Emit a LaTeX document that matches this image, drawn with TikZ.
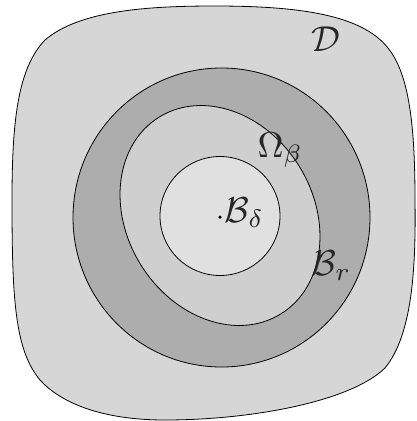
\documentclass[tikz,border=0pt]{standalone}
\usepackage{amsmath}
\definecolor{dfill}{HTML}{D6D6D6}
\definecolor{rfill}{HTML}{ADADAD}
\definecolor{ofill}{HTML}{CFCFCF}
\definecolor{ifill}{HTML}{E0E0E0}
\tikzset{
  region/.style={draw=black, line width=0.8pt},
  lbl/.style={scale=3.6, inner sep=0pt, text=black!85},
}
\begin{document}
\begin{tikzpicture}[x=1pt, y=-1pt]
\useasboundingbox (0,0) rectangle (417,421);
% domain D
\path[region, fill=dfill] (215,6) .. controls (300,6) and (362,15) .. (388,48)
  .. controls (410,75) and (415,130) .. (415,200)
  .. controls (416,270) and (412,335) .. (385,368)
  .. controls (350,402) and (250,420) .. (165,420)
  .. controls (100,420) and (60,402) .. (40,380)
  .. controls (15,350) and (12,300) .. (12,200)
  .. controls (12,120) and (18,68) .. (45,40)
  .. controls (80,10) and (150,6) .. (215,6) -- cycle;
% ball B_r
\path[region, fill=rfill] (221.5,217.5) ellipse [x radius=148.5, y radius=149.5];
% Omega_beta
\path[region, fill=ofill] (220,215.5) ellipse [x radius=115.7, y radius=93.3, rotate=-58.3];
% ball B_delta
\path[region, fill=ifill] (220,216) ellipse [x radius=60, y radius=59.5];
% centre point
\node[circle, fill=black, inner sep=0pt, minimum size=3.5pt] (ctr) at (220,217) {};
% labels
\node[lbl] (D) at (326,39) {$\mathcal{D}$};
\node[lbl, anchor=base west] (Om) at (257,157) {$\Omega_\beta$};
\node[lbl, anchor=base west] (Bd) at (224,222) {$\mathcal{B}_\delta$};
\node[lbl, anchor=base west] (Br) at (311,275) {$\mathcal{B}_r$};
\end{tikzpicture}
\end{document}
